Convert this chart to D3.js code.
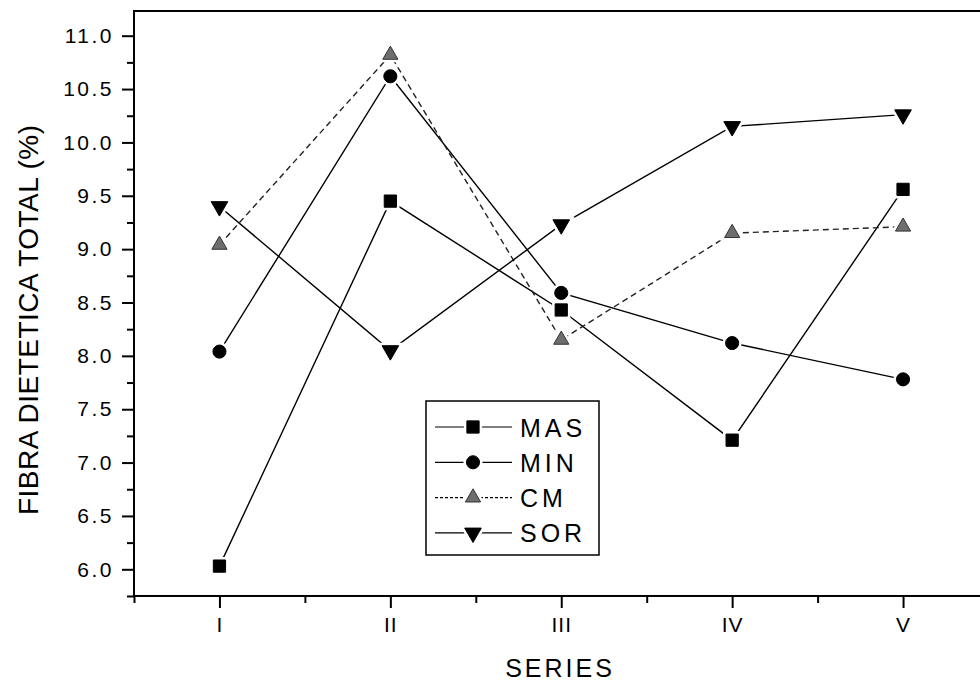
<!DOCTYPE html>
<html>
<head>
<meta charset="utf-8">
<script src="https://cdn.jsdelivr.net/npm/d3@7"></script>
<style>
  html, body { margin: 0; padding: 0; background: #fff; }
  svg { display: block; font-family: "Liberation Sans", Arial, sans-serif; }
</style>
</head>
<body>
<svg id="chart" width="980" height="685"></svg>
<script>
// ---- data ----
const categories = ["I", "II", "III", "IV", "V"];
const masValues = [6.03, 9.45, 8.43, 7.21, 9.56];
const minValues = [8.04, 10.62, 8.59, 8.12, 7.78];
const cmValues  = [9.04, 10.82, 8.15, 9.15, 9.21];
const sorValues = [9.40, 8.05, 9.23, 10.15, 10.26];
const seriesNames = ["MAS", "MIN", "CM", "SOR"];
const yMajorTicks = [6.0, 6.5, 7.0, 7.5, 8.0, 8.5, 9.0, 9.5, 10.0, 10.5, 11.0];
const yTitle = "FIBRA DIETETICA TOTAL (%)";
const xTitle = "SERIES";

// ---- setup ----
const svg = d3.select("#chart");
const x = d3.scaleLinear().domain([0.5, 5.5]).range([134, 988.5]);
const y = d3.scaleLinear().domain([6, 11]).range([569.3, 35.7]);
const yLow = 5.75, yHigh = y.invert(11);

const series = [
  { name: seriesNames[0], values: masValues, symbol: d3.symbolSquare, size: 150, fill: "#000", stroke: "#000", dash: null },
  { name: seriesNames[1], values: minValues, symbol: d3.symbolCircle, size: 135, fill: "#000", stroke: "#000", dash: null },
  { name: seriesNames[2], values: cmValues, symbol: d3.symbolTriangle, size: 100, fill: "#6e6e6e", stroke: "#333", dash: "6,4" },
  { name: seriesNames[3], values: sorValues, symbol: d3.symbolTriangle, size: 120, fill: "#000", stroke: "#000", dash: null, flip: true }
];

// ---- frame ----
svg.append("rect")
  .attr("x", x(0.5)).attr("y", y(yHigh))
  .attr("width", x(5.5) - x(0.5)).attr("height", y(yLow) - y(yHigh))
  .attr("fill", "none").attr("stroke", "#000").attr("stroke-width", 2);

// ---- y axis ----
const yMinor = d3.range(5.75, 11.01, 0.25).filter(v => Math.abs(v * 2 - Math.round(v * 2)) > 1e-6);
const yAxisMinor = svg.append("g").attr("transform", `translate(${x(0.5)},0)`)
  .call(d3.axisLeft(y).tickValues(yMinor).tickSize(7).tickFormat(""));
const yAxis = svg.append("g").attr("transform", `translate(${x(0.5)},0)`)
  .call(d3.axisLeft(y).tickValues(yMajorTicks).tickSize(12).tickPadding(8).tickFormat(d3.format(".1f")));
[yAxisMinor, yAxis].forEach(g => {
  g.select(".domain").remove();
  g.selectAll(".tick line").attr("stroke", "#000").attr("stroke-width", 2);
});
yAxis.selectAll(".tick text")
  .attr("font-size", 21).attr("letter-spacing", "2.5px").attr("fill", "#000")
  .attr("font-family", "'Liberation Sans', Arial, sans-serif");

// ---- x axis ----
const xMinor = [0.5, 1.5, 2.5, 3.5, 4.5, 5.5];
const xAxisMinor = svg.append("g").attr("transform", `translate(0,${y(yLow)})`)
  .call(d3.axisBottom(x).tickValues(xMinor).tickSize(7).tickFormat(""));
const xAxis = svg.append("g").attr("transform", `translate(0,${y(yLow)})`)
  .call(d3.axisBottom(x).tickValues([1, 2, 3, 4, 5]).tickSize(12).tickPadding(9)
    .tickFormat((d, i) => categories[i]));
[xAxisMinor, xAxis].forEach(g => {
  g.select(".domain").remove();
  g.selectAll(".tick line").attr("stroke", "#000").attr("stroke-width", 2);
});
xAxis.selectAll(".tick text")
  .attr("font-size", 21).attr("letter-spacing", "1px").attr("fill", "#000")
  .attr("font-family", "'Liberation Sans', Arial, sans-serif");

// ---- titles ----
svg.append("text")
  .attr("transform", "translate(38,320) rotate(-90)")
  .attr("text-anchor", "middle").attr("font-size", 28).attr("fill", "#000")
  .attr("textLength", 390).attr("lengthAdjust", "spacing")
  .text(yTitle);
svg.append("text")
  .attr("x", 560).attr("y", 677)
  .attr("text-anchor", "middle").attr("font-size", 25).attr("letter-spacing", "3px").attr("fill", "#000")
  .text(xTitle);

// ---- lines ----
const line = d3.line().x((d, i) => x(i + 1)).y(d => y(d));
series.forEach(s => {
  svg.append("path")
    .attr("d", line(s.values))
    .attr("fill", "none").attr("stroke", s.dash ? "#222" : "#000")
    .attr("stroke-width", 1.4)
    .attr("stroke-dasharray", s.dash);
});

// ---- markers (white halo then marker) ----
function marker(g, s, cx, cy, halo) {
  g.append("path")
    .attr("d", d3.symbol().type(s.symbol).size(s.size)())
    .attr("transform", `translate(${cx},${cy})${s.flip ? " rotate(180)" : ""}`)
    .attr("fill", halo ? "#fff" : s.fill)
    .attr("stroke", halo ? "#fff" : s.stroke)
    .attr("stroke-width", halo ? 6 : 1);
}
const haloG = svg.append("g");
const markG = svg.append("g");
series.forEach(s => {
  s.values.forEach((v, i) => {
    marker(haloG, s, x(i + 1), y(v), true);
    marker(markG, s, x(i + 1), y(v), false);
  });
});

// ---- legend ----
const leg = svg.append("g");
leg.append("rect").attr("x", 426).attr("y", 401).attr("width", 173).attr("height", 154)
  .attr("fill", "#fff").attr("stroke", "#000").attr("stroke-width", 1.5);
series.forEach((s, i) => {
  const ly = 427 + i * 35.3;
  leg.append("line").attr("x1", 435).attr("x2", 512).attr("y1", ly).attr("y2", ly)
    .attr("stroke", "#000").attr("stroke-width", 1.2)
    .attr("stroke-dasharray", s.dash ? "3,2" : null);
  marker(leg, s, 473, ly, true);
  marker(leg, s, 473, ly, false);
  leg.append("text").attr("x", 520).attr("y", ly + 9.5)
    .attr("font-size", 25).attr("letter-spacing", "4px").attr("fill", "#000")
    .text(s.name);
});
</script>
</body>
</html>
